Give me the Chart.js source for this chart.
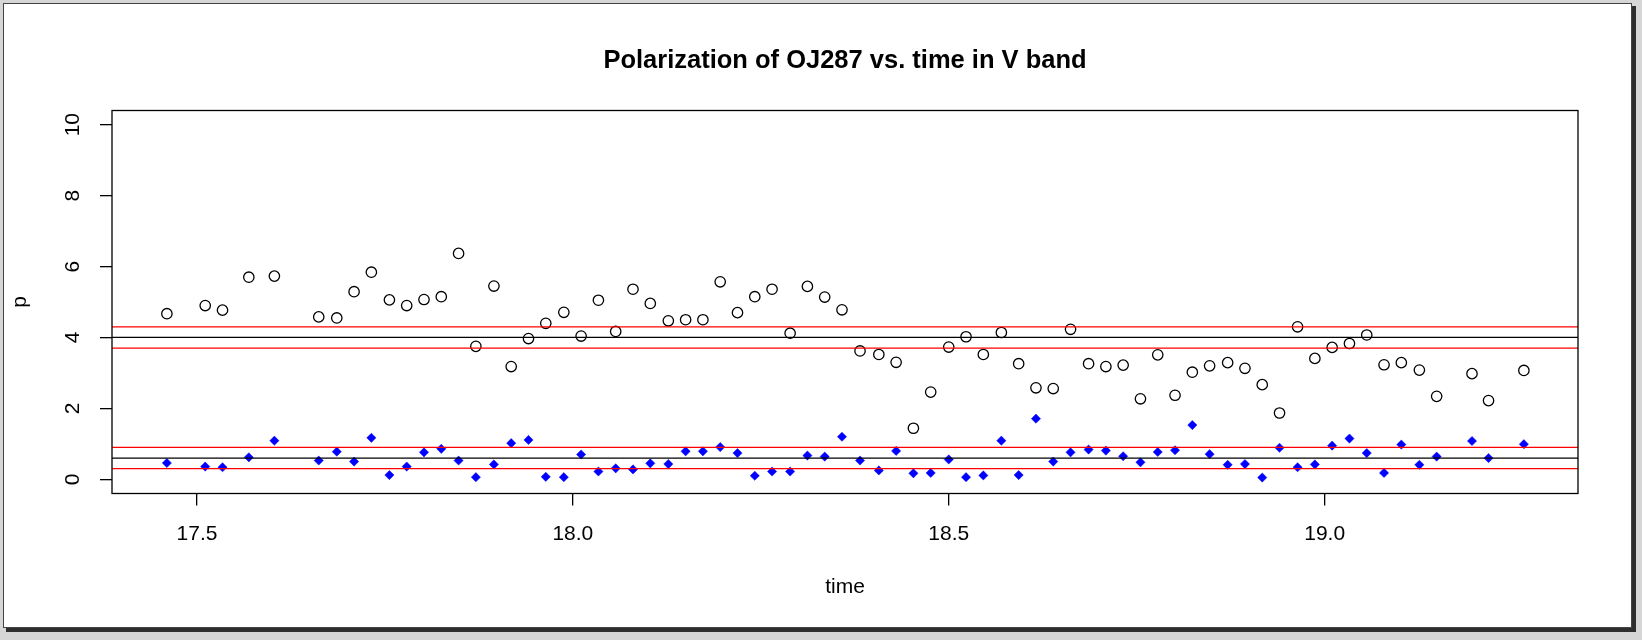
<!DOCTYPE html>
<html>
<head>
<meta charset="utf-8">
<title>Polarization of OJ287</title>
<script src="https://cdn.jsdelivr.net/npm/chart.js@4.4.1/dist/chart.umd.min.js"></script>
<style>
  html, body { margin: 0; padding: 0; background: #d6d6d6; }
  #chart { display: block; }
</style>
</head>
<body>
<canvas id="chart" width="1642" height="640"></canvas>
<script>
let time = [17.460, 17.511, 17.534, 17.569, 17.603, 17.662, 17.686, 17.709, 17.732, 17.756,
            17.779, 17.802, 17.825, 17.848, 17.871, 17.895, 17.918, 17.941, 17.964, 17.988,
            18.011, 18.034, 18.057, 18.080, 18.103, 18.127, 18.150, 18.173, 18.196, 18.219,
            18.242, 18.265, 18.289, 18.312, 18.335, 18.358, 18.382, 18.407, 18.430, 18.453,
            18.476, 18.500, 18.523, 18.546, 18.570, 18.593, 18.616, 18.639, 18.662, 18.686,
            18.709, 18.732, 18.755, 18.778, 18.801, 18.824, 18.847, 18.871, 18.894, 18.917,
            18.940, 18.964, 18.987, 19.010, 19.033, 19.056, 19.079, 19.102, 19.126, 19.149,
            19.196, 19.218, 19.265]

// open circles
let pCircles = [4.67, 4.90, 4.77, 5.70, 5.73, 4.58, 4.55, 5.29, 5.84, 5.06,
                4.90, 5.07, 5.15, 6.37, 3.75, 5.45, 3.18, 3.97, 4.40, 4.71,
                4.04, 5.05, 4.17, 5.36, 4.96, 4.47, 4.50, 4.50, 5.57, 4.70,
                5.15, 5.36, 4.12, 5.44, 5.14, 4.78, 3.62, 3.52, 3.30, 1.44,
                2.46, 3.73, 4.02, 3.52, 4.14, 3.26, 2.58, 2.56, 4.23, 3.26,
                3.18, 3.22, 2.27, 3.51, 2.37, 3.02, 3.20, 3.29, 3.13, 2.67,
                1.87, 4.30, 3.41, 3.72, 3.83, 4.07, 3.23, 3.29, 3.08, 2.34,
                2.98, 2.22, 3.07]

// blue diamonds
let pDiamonds = [0.46, 0.36, 0.34, 0.62, 1.09, 0.53, 0.78, 0.50, 1.17, 0.12,
                 0.36, 0.76, 0.86, 0.53, 0.06, 0.42, 1.02, 1.11, 0.07, 0.06,
                 0.70, 0.22, 0.31, 0.28, 0.45, 0.43, 0.79, 0.79, 0.91, 0.74,
                 0.10, 0.22, 0.22, 0.67, 0.64, 1.20, 0.53, 0.25, 0.80, 0.17,
                 0.18, 0.56, 0.06, 0.11, 1.09, 0.12, 1.71, 0.50, 0.76, 0.84,
                 0.81, 0.65, 0.48, 0.77, 0.82, 1.53, 0.71, 0.41, 0.43, 0.05,
                 0.89, 0.34, 0.42, 0.95, 1.15, 0.74, 0.18, 0.98, 0.41, 0.64,
                 1.08, 0.60, 0.99]

let meanLines = [4.0, 0.6]
let bandLines = [4.3, 3.7, 0.9, 0.3]

let xTicks = [17.5, 18.0, 18.5, 19.0]
let yTicks = [0, 2, 4, 6, 8, 10]
let xRange = [17.387, 19.337]
let yRange = [-0.4, 10.4]

let font = "'Liberation Sans', Arial, Helvetica, sans-serif"

let hline = (v, color) => ({
    type: 'line',
    showLine: true,
    data: [{x: xRange[0], y: v}, {x: xRange[1], y: v}],
    borderColor: color,
    borderWidth: 1.3,
    pointRadius: 0,
    fill: false
})

// page frame with shadow, like the saved plot window
let framePlugin = {
    id: 'frame',
    beforeDraw(chart) {
        let c = chart.ctx
        c.save()
        c.fillStyle = '#d6d6d6'
        c.fillRect(0, 0, chart.width, chart.height)
        c.fillStyle = '#2e2e2e'
        c.fillRect(6, 6, 1630, 626)
        c.fillStyle = '#ffffff'
        c.fillRect(3, 3, 1629, 625)
        c.strokeStyle = '#444'
        c.lineWidth = 1
        c.strokeRect(3.5, 3.5, 1628, 624)
        c.restore()
    },
    afterDraw(chart) {
        let c = chart.ctx
        let a = chart.chartArea
        c.save()
        c.strokeStyle = '#000'
        c.lineWidth = 1.3
        c.strokeRect(a.left, a.top, a.right - a.left, a.bottom - a.top)
        // y tick labels, rotated like base R
        let ys = chart.scales.y
        c.fillStyle = '#000'
        c.font = '21px ' + font
        c.textAlign = 'center'
        c.textBaseline = 'middle'
        yTicks.forEach(v => {
            c.save()
            c.translate(72.8, ys.getPixelForValue(v))
            c.rotate(-Math.PI / 2)
            c.fillText(String(v), 0, 0)
            c.restore()
        })
        c.restore()
    }
}

Chart.defaults.color = '#000'
Chart.defaults.font.family = font

let ctx = document.getElementById('chart').getContext('2d')
let myChart = new Chart(ctx, {
    type: 'scatter',
    data: {
        datasets: [
            ...bandLines.map(v => hline(v, '#ff0000')),
            ...meanLines.map(v => hline(v, '#000000')),
            {
                label: 'p',
                data: time.map((t, i) => ({x: t, y: pCircles[i]})),
                pointStyle: 'circle',
                radius: 5.2,
                borderColor: '#000',
                backgroundColor: 'rgba(0,0,0,0)',
                borderWidth: 1.3
            },
            {
                label: 'p blue',
                data: time.map((t, i) => ({x: t, y: pDiamonds[i]})),
                pointStyle: 'rectRot',
                radius: 4.6,
                borderColor: '#0000ff',
                backgroundColor: '#0000ff',
                borderWidth: 0.5
            }
        ]
    },
    options: {
        responsive: false,
        animation: false,
        devicePixelRatio: 1,
        events: [],
        layout: { padding: { top: 0, left: 0, right: 64, bottom: 0 } },
        plugins: {
            legend: { display: false },
            tooltip: { enabled: false },
            title: {
                display: true,
                fullSize: false,
                text: 'Polarization of OJ287 vs. time in V band',
                font: { size: 25.5, weight: 'bold', family: font },
                color: '#000',
                padding: { top: 45.2, bottom: 34.7 }
            }
        },
        scales: {
            x: {
                type: 'linear',
                min: xRange[0],
                max: xRange[1],
                afterBuildTicks: s => { s.ticks = xTicks.map(v => ({value: v})) },
                afterFit: s => { s.height = 146.5 },
                ticks: {
                    callback: v => v.toFixed(1),
                    font: { size: 21 },
                    color: '#000',
                    padding: 16,
                    maxRotation: 0
                },
                grid: { drawOnChartArea: false, drawTicks: true, tickLength: 12, color: '#000', lineWidth: 1.3 },
                border: { display: false },
                title: { display: true, text: 'time', font: { size: 21 }, color: '#000', padding: { top: 0, bottom: 40 } }
            },
            y: {
                type: 'linear',
                min: yRange[0],
                max: yRange[1],
                afterBuildTicks: s => { s.ticks = yTicks.map(v => ({value: v})) },
                afterFit: s => { s.width = 112 },
                ticks: { display: false },
                grid: { drawOnChartArea: false, drawTicks: true, tickLength: 12, color: '#000', lineWidth: 1.3 },
                border: { display: false },
                title: { display: true, text: 'p', font: { size: 21 }, color: '#000', padding: { top: 8, bottom: 0 } }
            }
        }
    },
    plugins: [framePlugin]
})
</script>
</body>
</html>
